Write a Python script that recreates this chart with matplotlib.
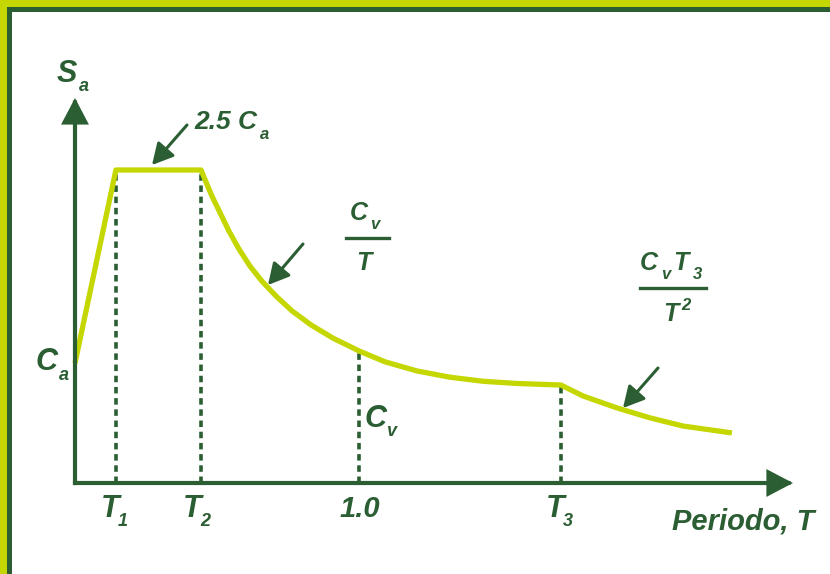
import matplotlib
matplotlib.use("Agg")
import matplotlib.pyplot as plt
from matplotlib.patches import Rectangle, ArrowStyle

# ---------------- data ----------------
# characteristic periods
T1, T2, T_ONE, T3 = 0.144, 0.444, 1.0, 1.711
Ca = 0.383          # spectral ordinate at T = 0
Sa_max = 1.0        # plateau value (2.5 Ca)

ramp_T = [0.0, T1]
ramp_Sa = [Ca, Sa_max]
plateau_T = [T1, T2]
plateau_Sa = [Sa_max, Sa_max]
# descending branch Cv/T (T2 .. T3)
desc_T = [0.444, 0.461, 0.482, 0.511, 0.542, 0.577, 0.616, 0.658, 0.708, 0.764,
          0.831, 0.908, 1.000, 1.092, 1.204, 1.320, 1.437, 1.556, 1.711]
desc_Sa = [1.000, 0.962, 0.917, 0.863, 0.805, 0.748, 0.693, 0.645, 0.597, 0.550,
           0.505, 0.463, 0.422, 0.387, 0.358, 0.338, 0.325, 0.318, 0.313]
# branch Cv T3 / T^2 (beyond T3)
tail_T = [1.711, 1.789, 1.908, 2.025, 2.141, 2.313]
tail_Sa = [0.313, 0.278, 0.240, 0.208, 0.182, 0.160]

guide_T = [T1, T2, T_ONE, T3]
guide_Sa = [Sa_max, Sa_max, 0.422, 0.313]
x_axis_end = 2.528
y_axis_end = 1.230

DG = "#2b5e33"
YG = "#c4d700"
W, H = 830, 574

plt.rcParams["font.family"] = ["Liberation Sans", "DejaVu Sans"]

fig = plt.figure(figsize=(W / 100, H / 100), dpi=100)
fig.patch.set_facecolor("white")
ax = fig.add_axes([0, 0, 1, 1])
ax.set_xlim(-75 / 284, 755 / 284)
ax.set_ylim((483 - 574) / 313, 483 / 313)
ax.axis("off")

# frame (top and left bands)
def band(x, y, w, h, c):
    fig.patches.append(Rectangle((x / W, 1 - (y + h) / H), w / W, h / H,
                                 transform=fig.transFigure, color=c, lw=0, zorder=0))
band(0, 0, W, 7, YG)
band(0, 7, W, 5, DG)
band(0, 0, 7, H, YG)
band(7, 7, 5, H, DG)

# dashed guide lines
for t, s in zip(guide_T, guide_Sa):
    ax.plot([t, t], [0, s], color=DG, lw=2.6, ls=(0, (1.8, 1.3)), zorder=2,
            solid_capstyle="butt")

# spectrum curve
curve_kw = dict(color=YG, lw=3.8, solid_joinstyle="round", solid_capstyle="butt", zorder=3)
ax.plot(ramp_T + plateau_T[1:] + desc_T[1:] + tail_T[1:],
        ramp_Sa + plateau_Sa[1:] + desc_Sa[1:] + tail_Sa[1:], **curve_kw)

# axes with arrows
ax_style = ArrowStyle("-|>", head_length=0.8, head_width=0.42)
for end in [(x_axis_end, 0), (0, y_axis_end)]:
    ax.annotate("", xy=end, xytext=(0, 0),
                arrowprops=dict(arrowstyle=ax_style, lw=3.0, color=DG,
                                mutation_scale=18, shrinkA=0, shrinkB=0,
                                joinstyle="miter", capstyle="projecting"),
                zorder=4)

# text helpers (pixel positions measured from top-left)
def t(x, y, s, size):
    fig.text(x / W, 1 - y / H, s, fontsize=size, color=DG, fontweight="bold",
             fontstyle="italic", ha="left", va="baseline")

def pointer(x0, y0, x1, y1):
    fig.add_artist(matplotlib.patches.FancyArrowPatch(
        (x0 / W, 1 - y0 / H), (x1 / W, 1 - y1 / H), transform=fig.transFigure,
        arrowstyle=ArrowStyle("-|>", head_length=0.75, head_width=0.4),
        mutation_scale=17, lw=2.2, color=DG, shrinkA=0, shrinkB=0))

def hbar(x0, x1, y):
    fig.add_artist(matplotlib.lines.Line2D([x0 / W, x1 / W], [1 - y / H, 1 - y / H],
                                           transform=fig.transFigure, color=DG, lw=2.4))

# axis title Sa
t(57, 82, "S", 22)
t(79, 91, "a", 13)
# Ca
t(36, 370, "C", 22)
t(59, 380, "a", 13)
# tick labels
t(101, 517, "T", 22)
t(118, 526, "1", 13)
t(183, 517, "T", 22)
t(200, 526, "2", 13)
t(340, 517, "1.0", 21)
t(546, 517, "T", 22)
t(563, 526, "3", 13)
# Cv at T = 1
t(365, 427, "C", 22)
t(386, 436, "v", 13)
# 2.5 Ca
t(194, 129, "2.5 C", 19)
t(260, 139, "a", 12)
pointer(187, 125, 152, 165)
# Cv / T
t(350, 220, "C", 18)
t(370, 229, "v", 12)
hbar(346, 389, 238)
t(356, 270, "T", 18)
pointer(303, 244, 268, 285)
# Cv T3 / T^2
t(640, 270, "C", 18)
t(661, 279, "v", 12)
t(673, 270, "T", 18)
t(693, 279, "3", 12)
hbar(640, 706, 288)
t(663, 321, "T", 18)
t(681, 310, "2", 12)
pointer(658, 368, 623, 408)
# x-axis title
t(672, 530, "Periodo, T", 21)

fig.savefig("out.png", dpi=100, facecolor="white")
